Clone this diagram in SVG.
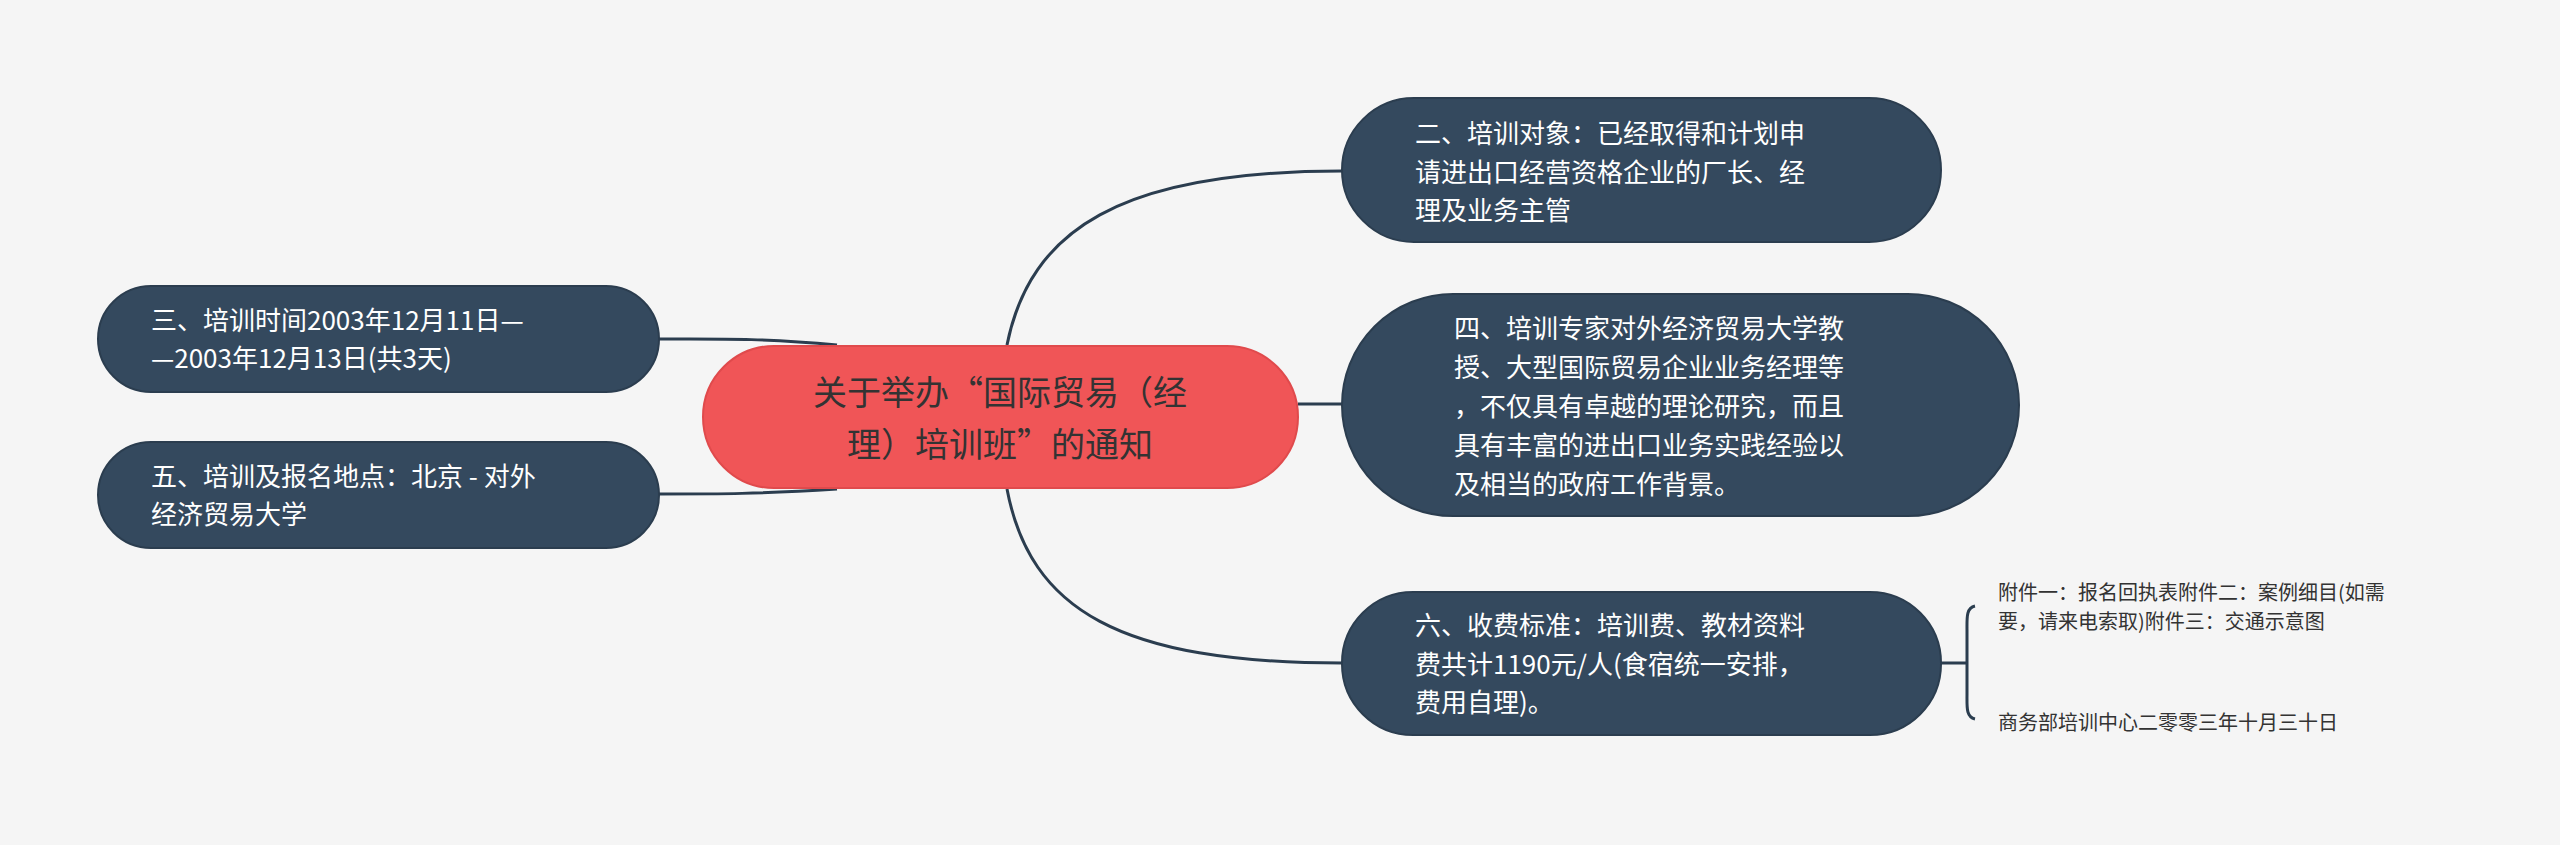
<svg xmlns="http://www.w3.org/2000/svg" width="2560" height="845" viewBox="0 0 2560 845">
<style>
.n rect{fill:#34495e;stroke:#2b3d4f;stroke-width:2}
.n text{fill:#fff;font-family:"Noto Sans CJK SC","Liberation Sans",sans-serif;font-size:26px}
.c{fill:none;stroke:#2b3d4f;stroke-width:3}
.leaf{fill:#333;font-family:"Noto Sans CJK SC","Liberation Sans",sans-serif;font-size:20px}
</style>
<rect width="2560" height="845" fill="#f5f5f5"/>
<g id="connectors">
<path class="c" d="M837,345 C760,338 720,339 659,339"/>
<path class="c" d="M837,489 C760,494 720,494 659,494"/>
<path class="c" d="M1007,345 C1030,230 1120,171 1342,171"/>
<path class="c" d="M1298,404 L1342,404"/>
<path class="c" d="M1007,489 C1030,610 1120,663 1342,663"/>
<path class="c" d="M1941,663 L1967,663 M1975,606 C1966,608 1967,618 1967,630 L1967,695 C1967,707 1966,717 1975,719"/>
</g>
<g id="center">
<rect x="703" y="346" width="595" height="142" rx="71" fill="#f05557" stroke="#e04a4c" stroke-width="2"/>
<text x="1000" y="405" text-anchor="middle" font-family="Noto Sans CJK SC,Liberation Sans,sans-serif" font-size="34" fill="#333">关于举办“国际贸易（经</text>
<text x="1000" y="457" text-anchor="middle" font-family="Noto Sans CJK SC,Liberation Sans,sans-serif" font-size="34" fill="#333">理）培训班”的通知</text>
</g>
<g id="n3" class="n"><rect x="98" y="286" width="561" height="106" rx="53"/>
<text x="151" y="330">三、培训时间2003年12月11日—</text><text x="151" y="368">—2003年12月13日(共3天)</text></g>
<g id="n5" class="n"><rect x="98" y="442" width="561" height="106" rx="53"/>
<text x="151" y="486">五、培训及报名地点：北京 - 对外</text><text x="151" y="524">经济贸易大学</text></g>
<g id="n2" class="n"><rect x="1342" y="98" width="599" height="144" rx="72"/>
<text x="1415" y="143">二、培训对象：已经取得和计划申</text><text x="1415" y="182">请进出口经营资格企业的厂长、经</text><text x="1415" y="220">理及业务主管</text></g>
<g id="n4" class="n"><rect x="1342" y="294" width="677" height="222" rx="111"/>
<text x="1454" y="338">四、培训专家对外经济贸易大学教</text><text x="1454" y="377">授、大型国际贸易企业业务经理等</text><text x="1454" y="416">，不仅具有卓越的理论研究，而且</text><text x="1454" y="455">具有丰富的进出口业务实践经验以</text><text x="1454" y="494">及相当的政府工作背景。</text></g>
<g id="n6" class="n"><rect x="1342" y="592" width="599" height="143" rx="71"/>
<text x="1415" y="635">六、收费标准：培训费、教材资料</text><text x="1415" y="674">费共计1190元/人(食宿统一安排，</text><text x="1415" y="712">费用自理)。</text></g>
<g id="leaf1"><text class="leaf" x="1998" y="600">附件一：报名回执表附件二：案例细目(如需</text><text class="leaf" x="1998" y="629">要，请来电索取)附件三：交通示意图</text></g>
<g id="leaf2"><text class="leaf" x="1998" y="730">商务部培训中心二零零三年十月三十日</text></g>
</svg>
